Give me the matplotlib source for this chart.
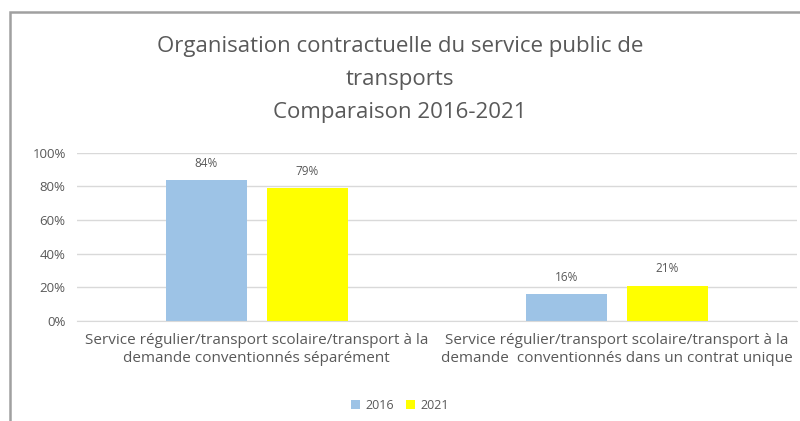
import matplotlib.pyplot as plt
import numpy as np
from matplotlib.patches import Rectangle

categories = ["Service régulier/transport scolaire/transport à la\ndemande conventionnés séparément",
              "Service régulier/transport scolaire/transport à la\ndemande  conventionnés dans un contrat unique"]
series_names = ["2016", "2021"]
values_2016 = [84, 16]
values_2021 = [79, 21]
yticks = [0, 20, 40, 60, 80, 100]

plt.rcParams['font.family'] = ['Open Sans', 'DejaVu Sans']
text_col = '#595959'

fig = plt.figure(figsize=(8, 4.21), dpi=100)
fig.patches.append(Rectangle((0.013, -0.01), 0.99, 0.982, transform=fig.transFigure,
                             fill=False, edgecolor='#a0a0a0', lw=1.8))
ax = fig.add_axes([0.096, 0.238, 0.9, 0.399])

x = np.arange(len(categories))
w = 0.225
b1 = ax.bar(x - 0.14, values_2016, w, color='#9DC3E6', label=series_names[0])
b2 = ax.bar(x + 0.14, values_2021, w, color='#FFFF00', label=series_names[1])
for bars in (b1, b2):
    for r in bars:
        ax.text(r.get_x() + r.get_width() / 2, r.get_height() + 6, f"{r.get_height():.0f}%",
                ha='center', va='bottom', fontsize=8.5, color=text_col)

ax.set_xlim(-0.5, 1.5)
ax.set_ylim(0, 100)
ax.set_yticks(yticks)
ax.set_yticklabels([f"{t}%" for t in yticks], fontsize=9.5, color=text_col)
ax.set_xticks(x)
ax.set_xticklabels(categories, fontsize=11, color=text_col, linespacing=1.25)
ax.tick_params(axis='x', length=0, pad=9)
ax.tick_params(axis='y', length=0, pad=8)
ax.grid(axis='y', color='#d9d9d9', lw=1)
ax.set_axisbelow(True)
for s in ['top', 'right', 'left']:
    ax.spines[s].set_visible(False)
ax.spines['bottom'].set_color('#d9d9d9')

fig.text(0.5, 0.81, "Organisation contractuelle du service public de\ntransports\nComparaison 2016-2021",
         ha='center', va='center', fontsize=16, color=text_col, linespacing=1.75)

ax.legend(loc='center', bbox_to_anchor=(0.5, 0.038), bbox_transform=fig.transFigure, ncol=2,
          frameon=False, fontsize=9, labelcolor=text_col, handlelength=0.7, handleheight=0.7,
          columnspacing=1.0, handletextpad=0.4)

fig.savefig('out.png', dpi=100)
